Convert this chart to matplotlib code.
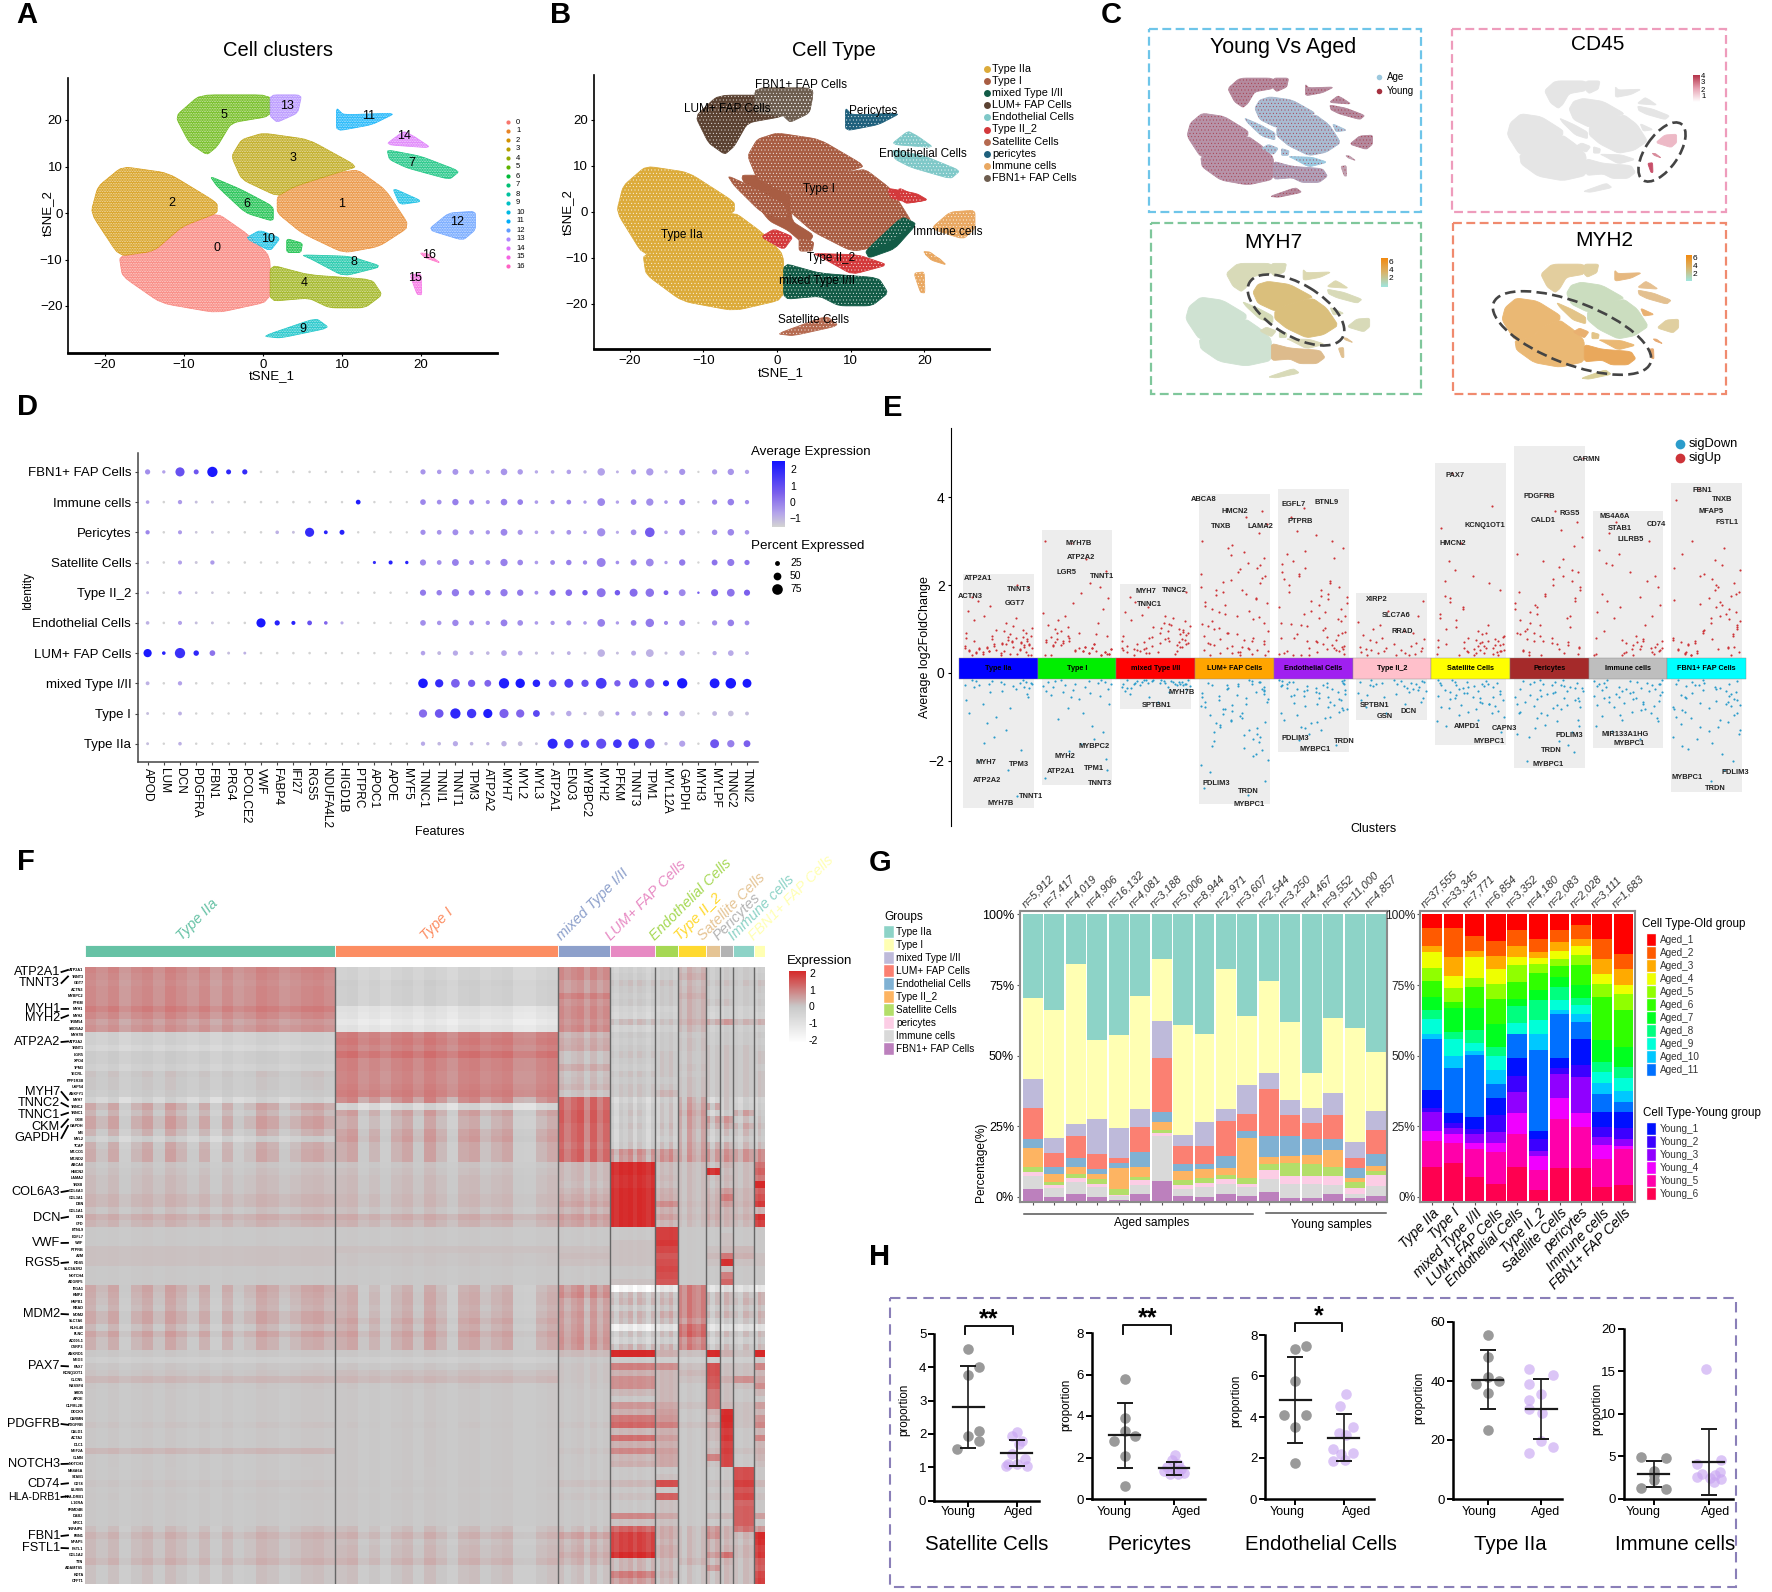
import numpy as np
import matplotlib
matplotlib.use("Agg")
import matplotlib.pyplot as plt
from matplotlib.colors import LinearSegmentedColormap as LSC
from matplotlib.patches import Polygon, Rectangle, Ellipse

plt.rcParams['font.family'] = ['Liberation Sans', 'DejaVu Sans']
plt.rcParams['hatch.linewidth'] = 0.25
W, H = 1772, 1592
fig = plt.figure(figsize=(W/100, H/100), dpi=100, facecolor='white')

def axpx(l, t, r, b, **k):
    return fig.add_axes([l/W, 1-b/H, (r-l)/W, (b-t)/H], **k)

ov = fig.add_axes([0, 0, 1, 1], zorder=50)
ov.set_xlim(0, W); ov.set_ylim(H, 0); ov.axis('off'); ov.patch.set_alpha(0)
def T(x, y, s, size=9, ha='center', va='center', **k):
    return ov.text(x, y, s, fontsize=size, ha=ha, va=va, **k)

for lab, x, y in [('A',27,15),('B',561,15),('C',1111,15),('D',28,407),('E',893,408),('F',26,862),('G',880,863),('H',880,1257)]:
    T(x, y, lab, 21, fontweight='bold')

# ---------------- tSNE cluster outlines (tSNE_1, tSNE_2)
outline_0 = [(-5.8,0),(-2,-4.5),(0.9,-9.3),(0.9,-19),(-5.8,-21.5),(-12.9,-19.4),(-17.8,-13.6),(-18.2,-9.3),(-13.8,-8.2),(-10.2,-2.9)]
outline_1 = [(9.3,8.6),(12,9.3),(15.5,5),(18.6,-2.9),(14.7,-7.2),(10.2,-8.6),(4.9,-4.3),(1.8,0),(1.8,3.6),(4,5.7)]
outline_2 = [(-17.8,10),(-12,8.6),(-5.8,2.2),(-5.8,0),(-10.2,-2.9),(-13.8,-8.2),(-18.2,-9.3),(-21.8,0),(-20.9,5.7)]
outline_3 = [(0,17.2),(5.8,15.8),(12,10),(9.3,8.6),(4,5.7),(1.8,3.6),(-2.7,7.2),(-4,12.2),(-2.7,15.8)]
outline_4 = [(0.9,-11.1),(5.8,-13.3),(13.8,-14.3),(15.1,-17.6),(12.9,-20.4),(8.4,-20.4),(5.8,-18.3),(0.9,-19)]
outline_5 = [(-8,25.4),(0.9,25.4),(0.9,20.8),(-4,19.4),(-5.8,14.3),(-7.1,12.5),(-9.3,15),(-11.1,20.8)]
outline_6 = [(-2.7,5),(1.3,1.4),(1.3,-1.8),(-2.2,0),(-5.8,5.7),(-6.7,7.9)]
outline_7 = [(15.7,13.6),(20,12.2),(24.9,9),(23.6,7.2),(18.2,9.7),(16,11.5)]
outline_8 = [(4.9,-9),(11,-9.3),(15.1,-11.5),(10.2,-13.6),(6.2,-10)]
outline_9 = [(0,-26.5),(6.7,-22.6),(8.4,-24.7),(2.2,-26.9)]
outline_10 = [(-0.4,-3.7),(2.2,-5.4),(0.9,-8.2),(-2.2,-5.4)]
outline_11 = [(9.3,22.6),(10.2,21.1),(16.8,21.5),(13.8,19),(9.3,17.6)]
outline_12 = [(23.5,0),(26.9,0.4),(26.9,-3.6),(25.3,-5.9),(20.9,-3.6)]
outline_13 = [(0.9,25.4),(4.9,25.4),(4.4,21.5),(1.8,19.5),(0.9,20.8)]
outline_14 = [(17.8,17.6),(19.1,16.5),(21.3,14),(15.5,14.7)]
outline_15 = [(18.6,-13.3),(20,-13),(20.1,-17.6),(19.5,-17.5)]
outline_16 = [(19.9,-8.6),(20.8,-8.7),(22.5,-10.8),(20.5,-9.6)]
outline_6b = [(3,-5.5),(5,-6.5),(4.8,-8.5),(3,-8.5)]
outline_10b = [(16.4,5.4),(20.2,2.5),(17.3,1.8)]
outlines = [outline_0,outline_1,outline_2,outline_3,outline_4,outline_5,outline_6,outline_7,outline_8,outline_9,
            outline_10,outline_11,outline_12,outline_13,outline_14,outline_15,outline_16,outline_6b,outline_10b]
cluster_id = list(range(17)) + [6, 10]

def smooth(p, n=2):
    p = np.array(p, float)
    for _ in range(n):
        q = np.roll(p, -1, axis=0)
        p = np.column_stack([0.88*p+0.12*q, 0.12*p+0.88*q]).reshape(-1, 2)
    return p

def blob(ax, poly, color, hatch_color='white', hatch='..........', alpha=1.0, z=2):
    xy = smooth(poly)
    ax.add_patch(Polygon(xy, closed=True, facecolor=color, edgecolor=color, lw=0.6, alpha=alpha, zorder=z))
    if hatch:
        ax.add_patch(Polygon(xy, closed=True, facecolor='none', edgecolor=hatch_color, lw=0, hatch=hatch, zorder=z+.1))

def tsne_axes(l, t, r, b):
    ax = axpx(l, t, r, b)
    for s in ('top', 'right'):
        ax.spines[s].set_visible(False)
    ax.spines['bottom'].set_linewidth(2)
    ax.spines['left'].set_linewidth(1.2)
    ax.set_xticks([-20,-10,0,10,20]); ax.set_yticks([-20,-10,0,10,20])
    ax.tick_params(labelsize=9.5, length=2.5, pad=1.5)
    return ax

# Panel A
hue17 = ["#F8766D","#E88526","#D39200","#B79F00","#93AA00","#5EB300","#00BA38","#00BF74","#00C19F","#00BFC4",
         "#00B9E3","#00ADFA","#619CFF","#AE87FF","#DB72FB","#F564E3","#FF61C3"]
axA = tsne_axes(68, 78, 497, 353)
axA.set_xlim((68-263)/7.9, (497-263)/7.9); axA.set_ylim((213-353)/4.65, (213-78)/4.65)
for poly, cid in zip(outlines, cluster_id):
    blob(axA, poly, hue17[cid], alpha=0.8)
cluster_names = [str(i) for i in range(17)]
cluster_lab_x = [-5.8,10,-11.5,3.8,5.2,-5,-2,18.9,11.5,5,0.6,13.4,24.6,3,17.9,19.3,21]
cluster_lab_y = [-7.5,1.9,2.1,11.8,-15,21,2,10.8,-10.5,-25,-5.6,20.8,-1.9,23,16.6,-13.9,-9]
for n, x, y in zip(cluster_names, cluster_lab_x, cluster_lab_y):
    axA.text(x, y, n, fontsize=9, ha='center', va='center', zorder=5)
T(278, 50, 'Cell clusters', 14.5)
T(48, 213, 'tSNE_2', 9.5, rotation=90); T(272, 376, 'tSNE_1', 9.5)
for i, (n, c) in enumerate(zip(cluster_names, hue17)):
    y = 122 + 9*i
    ov.plot([508], [y], 'o', ms=3, color=c, mew=0)
    T(516, y, n, 5.5, ha='left')

# Panel B
type_names = ['Type IIa','Type I','mixed Type I/II','LUM+ FAP Cells','Endothelial Cells','Type II_2','Satellite Cells','pericytes','Immune cells','FBN1+ FAP Cells']
type_colors = ['#DCAB3A','#A85D43','#125B46','#5B4232','#7FC8C8','#D3393B','#B56A50','#1F607C','#E9A862','#6D5D4F']
cluster_type = [0,1,0,1,2,3,1,4,5,6,5,7,8,9,4,8,8,1,5]
extra_I = [(-5,8),(-2,8),(2,4),(2,-2),(5,-5),(4,-7.5),(1.5,-4),(-1,-2),(-3,2)]
extra_FBN = [(-3,27),(5,27),(4.4,21.5),(1,20.8),(-3,21.5)]
extra_mixed = [(12,-8.5),(17,-1),(19,-2.6),(16,-8),(12.5,-10)]
extra_red = [(15,5.2),(19,4),(20.5,2.6),(18,2),(15.5,3)]
extra_immune = [(20,-9),(22,-10),(23,-11.5),(21,-10.5)]
axB = tsne_axes(593.5, 75, 989, 349)
axB.set_xlim((593.5-777)/7.36, (989-777)/7.36); axB.set_ylim((212-349)/4.6, (212-75)/4.6)
blob(axB, extra_I, type_colors[1], hatch=None)
for poly, t in zip(outlines, cluster_type):
    blob(axB, poly, type_colors[t], hatch='.....')
blob(axB, extra_FBN, type_colors[9], hatch='.....')
blob(axB, extra_mixed, type_colors[2], hatch=None)
blob(axB, extra_red, type_colors[5], hatch=None)
blob(axB, extra_immune, type_colors[8], hatch=None)
b_lab = ['FBN1+ FAP Cells','LUM+ FAP Cells','Pericytes','Endothelial Cells','Type I','Immune cells','Type IIa','Type II_2','mixed Type I/II','Satellite Cells']
b_x = [3.2,-6.8,13,19.8,5.7,23.2,-12.9,7.4,5.4,5.0]
b_y = [27.7,22.5,21.9,12.6,4.9,-4.4,-4.9,-10,-14.9,-23.4]
for n, x, y in zip(b_lab, b_x, b_y):
    axB.text(x, y, n, fontsize=8.5, ha='center', va='center', zorder=6)
T(834, 50, 'Cell Type', 14.5)
T(568, 212, 'tSNE_2', 9.5, rotation=90); T(781, 373, 'tSNE_1', 9.5)
for i, (n, c) in enumerate(zip(type_names, type_colors)):
    y = 69 + 12.1*i
    ov.plot([987], [y], 'o', ms=5, color=c, mew=0)
    T(992, y, n, 7.8, ha='left')

# Panel C
def mini(x0, sx, y0, sy):
    l, r = x0-27*sx, x0+30*sx
    t, b = y0-28*sy, y0+29*sy
    ax = axpx(l, t, r, b)
    ax.set_xlim(-27, 30); ax.set_ylim(-29, 28); ax.axis('off')
    return ax
for (l, t, r, b), c in zip([(1149,29,1421,212),(1452,29,1726,212),(1151,223,1421,394),(1453,223,1726,394)],
                           ['#6EC5E9','#EE9CBC','#7FC79B','#F08A6E']):
    ov.add_patch(Rectangle((l, t), r-l, b-t, fill=False, ec=c, lw=1.6, ls=(0,(4,2))))
T(1283, 47, 'Young Vs Aged', 15.5); T(1598, 44, 'CD45', 15); T(1273, 242, 'MYH7', 15); T(1604, 241, 'MYH2', 15)
ax1 = mini(1270, 3.81, 136, 2.28)
young_face = ['#B793A8','#A9BCD2','#B793A8','#A9BCD2','#B0A0B8','#B58A9E','#A9C4DA','#B58A9E','#9CCBE2','#B58A9E','#A9C4DA','#B58A9E','#B58A9E','#B58A9E','#B58A9E','#C0A0B0','#C0A0B0']
for poly, cid in zip(outlines, cluster_id):
    blob(ax1, poly, young_face[cid], hatch_color='#A5303F', hatch='.....')
ov.plot([1379], [77], 'o', ms=4, color='#9CC8DE', mew=0); ov.plot([1379], [90.7], 'o', ms=4, color='#A5303F', mew=0)
T(1386.5, 77, 'Age', 7, ha='left'); T(1386.5, 90.7, 'Young', 7, ha='left')
ax2 = mini(1583, 3.48, 135, 2.13)
cd45 = ['#E5E5E5']*17; cd45[12] = '#EDB9C6'; cd45[15] = '#C8506A'; cd45[16] = '#D88A9A'
for poly, cid in zip(outlines, cluster_id):
    blob(ax2, poly, cd45[cid], hatch=None)
ax3 = mini(1268, 3.78, 319, 2.19)
myh7 = ['#CFE2D2','#DABF7C','#CFE2D2','#DABF7C','#DDBB8C','#D8DAB8','#D4DAB6','#D8DAB8','#DCDAB8','#D8DAB8','#D8DAB8','#DCD8B0','#D8DAB8','#D8DAB8','#DCD8B0','#E0C090','#E0C090']
for poly, cid in zip(outlines, cluster_id):
    blob(ax3, poly, myh7[cid], hatch=None)
ax4 = mini(1581, 3.63, 320, 2.2)
myh2 = ['#EAB874','#CBDDBF','#EAB874','#CBDDBF','#E9A85C','#E3CE9E','#E3C488','#E3C090','#EAB874','#D9CF98','#E9B070','#E6B880','#E0CFA0','#E0CFA0','#E6C090','#E6A870','#E6A870']
for poly, cid in zip(outlines, cluster_id):
    blob(ax4, poly, myh2[cid], hatch=None)
for cx, cy, w, h, ang in [(1662,152,68,33,-55.6),(1296,310,108,52,30.7),(1572,333,168,62,21)]:
    ov.add_patch(Ellipse((cx, cy), w, h, angle=ang, fill=False, ec='#444444', lw=1.9, ls=(0,(4,2))))
grad = np.linspace(1, 0, 64).reshape(-1, 1)
def cbar(l, t, r, b, cmap):
    a = axpx(l, t, r, b); a.imshow(grad, aspect='auto', cmap=cmap); a.axis('off')
cm_cd = LSC.from_list('c', ['#FFFFFF', '#E8A5B5', '#B5344A'])
cm_my = LSC.from_list('m', ['#9FE5DD', '#D9B56B', '#F28A10'])
cbar(1693, 75, 1700, 102, cm_cd); cbar(1381, 258, 1388, 287, cm_my); cbar(1686, 255, 1692, 281, cm_my)
for y, s in zip([77,83,90,97], '4321'):
    T(1701, y, s, 5.5, ha='left')
for y, s in zip([263,271,279], '642'):
    T(1389, y, s, 6, ha='left')
for y, s in zip([259,267,275], '642'):
    T(1693, y, s, 6, ha='left')

# Panel D
features = ['APOD','LUM','DCN','PDGFRA','FBN1','PRG4','PCOLCE2','VWF','FABP4','IFI27','RGS5','NDUFA4L2','HIGD1B','PTPRC','APOC1','APOE','MYF5',
            'TNNC1','TNNI1','TNNT1','TPM3','ATP2A2','MYH7','MYL2','MYL3','ATP2A1','ENO3','MYBPC2','MYH2','PFKM','TNNT3','TPM1','MYL12A','GAPDH','MYH3','MYLPF','TNNC2','TNNI2']
identities = ['Type IIa','Type I','mixed Type I/II','LUM+ FAP Cells','Endothelial Cells','Type II_2','Satellite Cells','Pericytes','Immune cells','FBN1+ FAP Cells']
pct_IIa = [8,4,14,4,4,4,3,4,3,3,3,3,3,3,3,3,3,20,14,28,14,12,30,24,8,70,64,56,70,58,74,68,12,36,4,60,46,42]
pct_I = [8,4,16,4,4,4,3,4,3,3,4,3,3,3,3,3,3,54,58,72,64,62,62,54,42,20,30,12,36,18,24,24,24,32,3,24,32,16]
pct_mix = [16,5,20,5,5,4,4,4,4,4,4,4,4,4,3,3,3,66,54,58,46,42,72,64,48,50,60,46,76,38,62,62,36,72,4,68,74,60]
pct_LUM = [54,14,72,30,32,8,8,5,5,5,5,4,4,4,4,4,3,22,16,28,18,14,32,24,10,12,16,8,48,8,26,50,10,30,3,20,32,16]
pct_End = [14,5,18,8,8,5,5,62,28,18,24,14,10,4,4,4,3,32,22,38,26,20,42,32,14,20,26,14,50,12,32,56,18,36,3,28,40,24]
pct_II2 = [8,5,14,6,6,5,4,5,5,5,5,4,4,4,4,4,3,36,30,46,34,30,46,38,16,36,40,30,60,30,52,56,24,42,4,44,50,36]
pct_Sat = [8,5,18,8,20,5,5,4,5,5,5,4,4,4,10,18,12,36,24,42,26,24,46,32,14,24,30,20,60,14,36,50,12,38,3,34,44,28]
pct_Per = [20,5,18,6,8,5,5,5,14,8,62,16,26,4,4,4,3,28,24,34,24,20,42,28,14,18,24,14,54,10,32,66,14,36,3,30,40,22]
pct_Imm = [14,5,20,8,8,5,5,5,5,5,5,4,4,24,4,4,3,32,24,38,28,18,40,32,14,20,24,12,50,12,32,46,14,36,3,28,40,20]
pct_FBN = [28,12,62,26,72,26,28,5,6,6,5,4,4,4,4,4,3,28,22,34,25,18,40,30,12,14,22,12,48,8,28,46,12,36,3,28,38,20]
avg_IIa = [-.7,-1,-.5,-1,-1,-1,-1,-1,-1,-1,-1,-1,-1,-1,-1,-1,-1,-.4,-.6,-.4,-.6,-.6,-.5,-.7,-.8,1.9,1.5,1.4,1.1,1.6,1.6,1.1,-.7,-.3,-1,.9,.2,.7]
avg_I = [-.7,-1,-.5,-1,-1,-1,-1,-1,-1,-1,-1,-1,-1,-1,-1,-1,-1,.5,.9,1.9,1.6,2.1,.7,.6,1.2,-.5,-.4,-.7,-.8,-.2,-.4,-.8,.3,-.6,-1,-.6,-.7,-.7]
avg_mix = [-.5,-1,-.3,-1,-1,-1,-1,-1,-1,-1,-1,-1,-1,-1,-1,-1,-1,2.2,1.8,.7,.8,.6,2.1,2.2,2,1.1,1.4,1,1.5,.7,1.2,1,2,2.2,-1,2.1,2.2,2.2]
avg_LUM = [2.2,2,1.7,1.9,.4,-.7,-.5,-1,-1,-1,-1,-1,-1,-1,-1,-1,-1,-.3,-.6,-.4,-.5,-.6,-.3,-.4,-.7,-.6,-.5,-.8,-.5,-.7,-.4,-.5,-.7,-.4,-1,-.4,-.4,-.5]
avg_End = [-.5,-1,-.3,-.7,-.7,-1,-1,2.2,2,2,1,.6,-.4,-1,-1,-1,-1,0,-.1,.1,0,-.1,.2,0,-.2,-.1,0,-.2,.2,-.2,.2,.3,.1,.1,-1,0,.2,0]
avg_II2 = [-.6,-1,-.3,-.8,-.8,-1,-1,-1,-1,-1,-1,-1,-1,-1,-1,-1,-1,.3,.2,.3,.3,.3,.3,.3,0,.5,.5,.8,.4,.8,.5,.4,.7,.1,.8,.6,.4,.7]
avg_Sat = [-.7,-1,-.3,-.8,-.2,-1,-1,-1,-1,-1,-1,-1,-1,-1,1.8,2,2,.1,0,.2,.1,0,.2,.1,-.2,.1,.2,.1,.2,0,.2,.1,-.2,.3,-1,.4,.3,.4]
avg_Per = [.1,-1,-.2,-.8,-.7,-1,-1,-1,-.5,-.7,1.8,2,2,-1,-1,-1,-1,0,-.1,0,-.1,-.1,.1,-.1,-.3,-.2,-.1,-.2,0,-.4,0,.8,-.3,.1,-1,0,.1,-.1]
avg_Imm = [-.3,-1,-.2,-.7,-.7,-1,-1,-1,-1,-1,-1,-1,-1,2.1,-1,-1,-1,.1,0,.2,.1,-.1,.2,.2,-.2,0,.1,-.2,.1,-.3,.1,0,-.1,.2,-1,.1,.2,0]
avg_FBN = [0,-.3,1,.9,2.2,1.9,1.8,-1,-1,-1,-1,-1,-1,-1,-1,-1,-1,-.1,-.2,-.1,-.2,-.3,-.1,-.2,-.4,-.4,-.3,-.5,-.3,-.5,-.2,-.2,-.5,-.1,-1,-.2,-.1,-.3]
dot_pct = np.array([pct_IIa,pct_I,pct_mix,pct_LUM,pct_End,pct_II2,pct_Sat,pct_Per,pct_Imm,pct_FBN], float)
dot_avg = np.array([avg_IIa,avg_I,avg_mix,avg_LUM,avg_End,avg_II2,avg_Sat,avg_Per,avg_Imm,avg_FBN], float)
cm_dot = LSC.from_list('d', [(0,'#D3D3D3'),(.2,'#B5A5EA'),(.5,'#7E62EC'),(1,'#1414FF')])
axD = axpx(137.5, 453, 757.6, 761.7)
axD.set_xlim((137.5-147.6)/16.2, (757.6-147.6)/16.2)
axD.set_ylim(-(761.7-743.7)/30.2, (743.7-453)/30.2)
xx, yy = np.meshgrid(np.arange(len(features)), np.arange(len(identities)))
def dot_s(p):
    return (0.72*(2+np.asarray(p)*0.115))**2
axD.scatter(xx.ravel(), yy.ravel(), s=dot_s(dot_pct.ravel()), c=dot_avg.ravel(), cmap=cm_dot, vmin=-1, vmax=2.3, lw=0)
axD.set_xticks(range(len(features))); axD.set_xticklabels(features, rotation=270, fontsize=8.6, ha='center', va='top')
axD.set_yticks(range(len(identities))); axD.set_yticklabels(identities, fontsize=9.5)
axD.tick_params(length=2.5, pad=2, color='#444444')
for s in ('top','right'):
    axD.spines[s].set_visible(False)
for s in ('left','bottom'):
    axD.spines[s].set_color('#444444'); axD.spines[s].set_linewidth(1.1)
T(28, 590, 'Identity', 8.5, rotation=90); T(440, 832, 'Features', 9)
T(751, 452, 'Average Expression', 9.6, ha='left'); T(751, 545.7, 'Percent Expressed', 9.6, ha='left')
cbar(771.6, 461, 784, 527, cm_dot)
for y, s in zip([470,486.5,502.5,519], ['2','1','0','−1']):
    T(790, y, s, 7.5, ha='left')
for y, p in zip([562.7,576,589], [25,50,75]):
    ov.scatter([777], [y], s=dot_s(p), color='k', lw=0)
    T(790, y, str(p), 7.5, ha='left')

# Panel E
clusters_E = ['Type IIa','Type I','mixed Type I/II','LUM+ FAP Cells','Endothelial Cells','Type II_2','Satellite Cells','Pericytes','Immune cells','FBN1+ FAP Cells']
strip_colors = ['#0000FF','#00EE00','#FF0000','#FFA500','#A020F0','#FFC0CB','#FFFF00','#A52A2A','#BEBEBE','#00FFFF']
bg_top = [2.26,3.25,2.02,4.08,4.2,1.83,4.79,5.17,3.7,4.33]
bg_bottom = [-3.07,-2.55,-.81,-2.98,-1.81,-1.06,-1.63,-2.17,-1.7,-2.71]
jitter = [-.33,.12,.38,-.08,.24,-.41,.03,.31,-.2,.41,-.28,.15,-.12,.35,-.37,.07,.27,-.03,-.24,.43,-.15,.19,-.43,.1,.33,-.31,-.05,.22,.39,-.18,.05,-.39,.29,-.1,.17,-.26,.37]
up_IIa = [.4,.42,.44,.45,.47,.48,.5,.52,.53,.55,.56,.58,.6,.62,.64,.66,.68,.7,.72,.75,.78,.8,.83,.85,.88,.92,.95,.98,1.02,1.08,1.13,1.2,1.25,1.3,1.42,1.53,1.63,1.72,1.96,2.0,.41,.43,.46,.49,.51,.54,.57,.59,.61,.63,.65,.67,.69,.71,.74,.77,.81,.84,.9,.97,.4,.44,.47,.5,.53,.56,.6,.66,.73,.79]
up_I = [.4,.42,.44,.46,.48,.5,.52,.55,.57,.6,.62,.65,.68,.7,.74,.78,.82,.85,.88,.92,.96,1.0,1.05,1.1,1.15,1.2,1.3,1.36,1.45,1.6,1.7,1.82,1.95,2.05,2.33,2.6,2.96,3.0,.41,.43,.45,.47,.49,.51,.54,.56,.59,.63,.67,.72,.76,.8,.9,.41,.44,.5,.58,.64,.7,.84]
up_mix = [.42,.45,.48,.5,.53,.55,.58,.6,.62,.65,.68,.7,.72,.75,.78,.8,.84,.88,.9,.95,.98,1.02,1.05,1.08,1.1,1.15,1.2,1.26,1.32,1.4,1.5,1.62,1.72,1.85,.44,.47,.51,.54,.57,.61,.64,.67,.71,.74,.77,.82,.86,.92,1.0,1.12,1.18,1.3,.46,.52,.6,.69,.79,.94]
up_LUM = [.4,.45,.5,.55,.6,.65,.72,.78,.85,.92,1,1.08,1.15,1.22,1.3,1.38,1.46,1.55,1.62,1.7,1.78,1.85,1.95,2.05,2.12,2.2,2.3,2.4,2.5,2.62,2.75,2.85,3,3.2,3.4,3.55,3.7,.48,.62,.95,1.42,1.9,.41,.43,.46,.52,.57,.63,.68,.74,.8,.88,1.03,1.18,1.35,1.52,1.68,1.88,2.08,2.25,2.45,2.68,.42,.47,.53,.58,.66,.76,.9,1.12,1.28,1.6,1.8,2.16,2.36,2.92]
up_End = [.4,.44,.5,.56,.62,.7,.76,.83,.9,.98,1.06,1.14,1.22,1.3,1.38,1.46,1.55,1.64,1.72,1.8,1.9,2,2.1,2.2,2.3,2.4,2.55,2.7,2.85,3,3.15,3.24,3.55,3.75,.46,.58,.8,1.1,1.5,1.95,.41,.43,.47,.52,.54,.6,.66,.73,.79,.86,.94,1.02,1.18,1.26,1.42,1.6,1.68,1.76,1.85,2.05,2.25,2.48,2.78,.42,.49,.55,.64,.72,.88,1.12,1.34,2.15,2.62]
up_II2 = [.4,.42,.45,.48,.5,.52,.55,.58,.62,.65,.7,.75,.8,.86,.92,1,1.1,1.17,1.3,1.42,1.65,.41,.43,.46,.49,.53,.57,.6,.68,.78,.96]
up_Sat = [.4,.43,.46,.5,.53,.56,.6,.63,.66,.7,.73,.76,.8,.85,.9,.95,1,1.1,1.2,1.35,1.5,1.62,1.75,1.9,2.05,2.2,2.35,2.55,2.95,3.3,3.8,4.55,.41,.44,.47,.49,.51,.54,.58,.61,.64,.68,.71,.75,.78,.83,.88,.41,.45,.48,.52,.57,.62,.67,.72,1.05,1.25,1.45,1.7,2.1]
up_Per = [.4,.5,.6,.7,.8,.9,1,1.1,1.2,1.3,1.4,1.5,1.6,1.7,1.8,1.9,2,2.1,2.2,2.3,2.42,2.55,2.7,2.9,3.1,3.25,3.45,3.7,4.05,4.9,.45,.65,.95,1.25,1.55,1.85,.42,.47,.53,.57,.63,.68,.74,.78,.84,.88,1.05,1.15,1.35,1.45,1.65,1.75,1.95,2.15,2.35,2.6,.44,.55,.72,.92]
up_Imm = [.4,.44,.48,.52,.55,.6,.64,.68,.72,.78,.85,.95,1.1,1.25,1.4,1.5,1.65,1.8,1.95,2.1,2.3,2.45,2.5,2.7,2.8,3,3.2,3.45,.41,.43,.46,.5,.54,.57,.62,.66,.7,.75,.8,1.3,1.55,1.72,2.2,.42,.47,.58,.74]
up_FBN = [.4,.45,.5,.55,.6,.66,.72,.8,.88,.96,1.05,1.14,1.22,1.3,1.4,1.5,1.58,1.66,1.75,1.85,1.95,2.05,2.15,2.25,2.35,2.45,2.58,2.7,2.85,3,3.95,4.2,.48,.7,1,1.35,1.7,.41,.43,.46,.52,.57,.63,.68,.75,.84,.92,1.1,1.26,1.45,1.62,1.8,2,2.2,2.4,.42,.47,.54,.6,.78,.98,1.18,1.54,1.9]
dn_IIa = [-.16,-.18,-.2,-.22,-.24,-.26,-.28,-.3,-.33,-.36,-.4,-.44,-.48,-.55,-.62,-.7,-.8,-.9,-1,-1.15,-1.3,-1.45,-1.6,-1.75,-2,-2.2,-2.8,-.17,-.19,-.21,-.23,-.25,-.27,-.31,-.35]
dn_I = [-.16,-.18,-.2,-.23,-.26,-.3,-.33,-.36,-.4,-.45,-.5,-.55,-.6,-.7,-.8,-.9,-1.05,-1.2,-1.35,-1.5,-1.62,-1.78,-1.95,-2.2,-2.4,-.17,-.19,-.21,-.24,-.28,-.32,-.38,-.43,-.52]
dn_mix = [-.15,-.16,-.17,-.18,-.19,-.2,-.21,-.22,-.23,-.24,-.25,-.26,-.27,-.28,-.3,-.32,-.34,-.36,-.4,-.44,-.48,-.55,-.65,-.15,-.16,-.17,-.18,-.19,-.2,-.21,-.22,-.23,-.24,-.25,-.26,-.28,-.31,-.35]
dn_LUM = [-.16,-.2,-.25,-.3,-.36,-.42,-.48,-.55,-.62,-.7,-.78,-.86,-.94,-1.02,-1.1,-1.18,-1.26,-1.34,-1.42,-1.5,-1.58,-1.66,-1.75,-1.85,-1.98,-2.1,-2.25,-2.45,-2.62,-2.78,-.22,-.34,-.5,-.66,-.82,-.98,-1.14,-1.3,-1.46,-.18,-.24,-.28,-.33,-.39,-.45,-.52,-.58,-.65,-.74,-.82,-.9,-1.06,-1.22,-1.38,-1.54,-1.7,-1.9,-.2,-.27,-.36,-.44,-.6,-.76,-.96,-1.12]
dn_End = [-.16,-.19,-.22,-.26,-.3,-.34,-.38,-.42,-.46,-.5,-.55,-.6,-.65,-.7,-.75,-.8,-.85,-.9,-.96,-1.02,-1.08,-1.15,-1.22,-1.3,-1.4,-1.52,-1.65,-.2,-.28,-.36,-.44,-.52,-.62,-.72,-.82,-.17,-.21,-.24,-.27,-.31,-.35,-.39,-.43,-.47,-.53,-.58,-.68,-.78,-.88,-1,-1.12,-1.25,-.18,-.23,-.29,-.37]
dn_II2 = [-.16,-.19,-.22,-.25,-.28,-.32,-.36,-.4,-.45,-.5,-.56,-.62,-.7,-.78,-.9,-.17,-.2,-.23,-.26,-.3,-.34,-.38,-.43,-.48,-.54,-.66,-.18,-.21,-.24,-.29]
dn_Sat = [-.16,-.2,-.24,-.28,-.32,-.36,-.4,-.45,-.5,-.55,-.6,-.65,-.7,-.75,-.8,-.86,-.92,-1,-1.1,-1.2,-1.35,-.22,-.3,-.38,-.46,-.54,-.62,-.72,-.82,-.17,-.19,-.23,-.26,-.3,-.34,-.42,-.48,-.52,-.58,-.68,-.78,-.88,-.96,-1.06,-.21,-.27,-.33,-.44,-.57,-.7]
dn_Per = [-.16,-.2,-.25,-.3,-.35,-.4,-.46,-.52,-.58,-.64,-.7,-.76,-.82,-.88,-.95,-1.02,-1.1,-1.18,-1.26,-1.35,-1.45,-1.55,-1.65,-1.8,-2,-.22,-.32,-.42,-.54,-.66,-.78,-.9,-.17,-.19,-.24,-.28,-.34,-.38,-.44,-.5,-.56,-.62,-.72,-.8,-.92,-1.06,-1.2,-1.4,-.21,-.27,-.36,-.48,-.6,-.74]
dn_Imm = [-.16,-.19,-.22,-.26,-.3,-.34,-.38,-.42,-.46,-.5,-.55,-.6,-.65,-.7,-.76,-.82,-.88,-.95,-1.02,-1.1,-1.2,-1.32,-1.5,-.24,-.36,-.48,-.58,-.68,-.78,-.92,-.17,-.2,-.23,-.28,-.32,-.37,-.4,-.44,-.52,-.57,-.63,-.73,-.85,-.98,-1.06,-.18,-.25,-.31,-.43,-.54,-.66]
dn_FBN = [-.16,-.2,-.25,-.3,-.36,-.42,-.48,-.54,-.6,-.66,-.72,-.78,-.85,-.92,-1,-1.08,-1.16,-1.24,-1.32,-1.4,-1.5,-1.6,-1.72,-1.85,-2,-2.2,-2.45,-.28,-.44,-.62,-.82,-1.02,-1.22,-.17,-.22,-.27,-.33,-.38,-.46,-.52,-.58,-.64,-.7,-.76,-.88,-.96,-1.12,-1.3,-1.45,-1.66,-.19,-.24,-.35,-.5,-.68,-.8]
ups = [up_IIa,up_I,up_mix,up_LUM,up_End,up_II2,up_Sat,up_Per,up_Imm,up_FBN]
dns = [dn_IIa,dn_I,dn_mix,dn_LUM,dn_End,dn_II2,dn_Sat,dn_Per,dn_Imm,dn_FBN]
axE = axpx(951, 428, 1750, 826)
axE.set_xlim((951-959)/78.7, (1750-959)/78.7)
axE.set_ylim((673-826)/43.9, (673-428)/43.9)
for i in range(10):
    axE.add_patch(Rectangle((i+.05, bg_bottom[i]), .9, bg_top[i]-bg_bottom[i], fc='#EDEDED', ec='none', zorder=1))
    xu = [i+.5+jitter[(k*2+i*5) % len(jitter)] for k in range(len(ups[i]))]
    xd = [i+.5+jitter[(k*3+i*7) % len(jitter)] for k in range(len(dns[i]))]
    axE.scatter(xu, ups[i], s=2.4, color='#CD3338', lw=0, zorder=2)
    axE.scatter(xd, dns[i], s=2.4, color='#2B9CCB', lw=0, zorder=2)
    axE.add_patch(Rectangle((i, -.14), 1, .49, fc=strip_colors[i], ec='#888888', lw=.3, zorder=3))
    axE.text(i+.5, .105, clusters_E[i], fontsize=5.2, ha='center', va='center', zorder=4, fontweight='bold')
gene_labels = ['ATP2A1','ACTN3','TNNT3','GGT7','MYH7','TPM3','ATP2A2','TNNT1','MYH7B','MYH7B','ATP2A2','LGR5','TNNT1','MYBPC2','MYH2','TPM1','ATP2A1','TNNT3',
 'MYH7','TNNC2','TNNC1','MYH7B','SPTBN1','ABCA8','HMCN2','TNXB','LAMA2','PDLIM3','TRDN','MYBPC1','EGFL7','BTNL9','PTPRB','PDLIM3','TRDN','MYBPC1',
 'XIRP2','SLC7A6','RRAD','SPTBN1','GSN','DCN','PAX7','KCNQ1OT1','HMCN2','AMPD1','CAPN3','MYBPC1','CARMN','PDGFRB','RGS5','CALD1','PDLIM3','TRDN','MYBPC1',
 'MS4A6A','STAB1','CD74','LILRB5','MIR133A1HG','MYBPC1','FBN1','TNXB','MFAP5','FSTL1','MYBPC1','PDLIM3','TRDN']
gene_x = [.24,.14,.76,.71,.34,.76,.35,.91,.53,1.52,1.55,1.36,1.82,1.72,1.35,1.71,1.29,1.79,2.37,2.74,2.42,2.83,2.51,3.11,3.5,3.33,3.83,3.27,3.68,3.69,4.25,4.67,4.34,4.27,4.9,4.52,
 5.31,5.55,5.63,5.28,5.41,5.71,6.3,6.68,6.28,6.45,6.93,6.73,7.98,7.37,7.76,7.42,7.75,7.53,7.48,8.33,8.4,8.86,8.53,8.46,8.51,9.44,9.7,9.56,9.76,9.25,9.86,9.61]
gene_y = [2.15,1.75,1.9,1.58,-2.04,-2.09,-2.45,-2.81,-2.97,2.96,2.62,2.3,2.2,-1.68,-1.91,-2.18,-2.25,-2.52,1.85,1.88,1.55,-.45,-.75,3.96,3.67,3.34,3.34,-2.52,-2.71,-2.99,3.83,3.89,3.46,-1.5,-1.55,-1.75,
 1.67,1.31,.95,-.74,-.99,-.87,4.5,3.35,2.94,-1.22,-1.27,-1.56,4.87,4.03,3.63,3.48,-1.43,-1.77,-2.08,3.57,3.3,3.39,3.03,-1.41,-1.61,4.16,3.95,3.67,3.42,-2.38,-2.27,-2.64]
for g, x, y in zip(gene_labels, gene_x, gene_y):
    axE.text(x, y, g, fontsize=5.4, fontweight='bold', ha='center', va='center', zorder=5, color='#222222')
axE.set_xticks([]); axE.set_yticks([-2,0,2,4]); axE.tick_params(labelsize=10, length=2.5, pad=2)
for s in ('top','right','bottom'):
    axE.spines[s].set_visible(False)
T(925, 647, 'Average log2FoldChange', 9, rotation=90); T(1374, 829, 'Clusters', 9)
ov.plot([1680], [444], 'o', ms=7, color='#2B9CCB', mew=0); ov.plot([1680], [457.7], 'o', ms=7, color='#CD3338', mew=0)
T(1689, 444, 'sigDown', 9.3, ha='left'); T(1689, 457.7, 'sigUp', 9.3, ha='left')

# Panel F
group_sizes = [37555,33345,7771,6854,3352,4180,2083,2028,3111,1683]
group_names = ['Type IIa','Type I','mixed Type I/II','LUM+ FAP Cells','Endothelial Cells','Type II_2','Satellite Cells','Pericytes','Immune cells','FBN1+ FAP Cells']
group_colors = ['#66C2A5','#FC8D62','#8DA0CB','#E78AC3','#A6D854','#FFD92F','#E5C494','#B3B3B3','#8DD3C7','#FFFFB3']
genes_1 = ['ATP2A1','TNNT3','GGT7','ACTN3','MYBPC2','PFKM','MYH1','MYH2','TRIM54','SRD5A2']
genes_2 = ['MYH7B','ATP2A2','TNNT1','LGR5','XPO4','TPM3','TECRL','PPP1R3B','USP54','ANKFY1']
genes_3 = ['MYH7','TNNC2','TNNC1','CKM','GAPDH','MB','MYL2','TCAP','MT-CO1','MT-ND2']
genes_4 = ['ABCA8','HMCN2','LAMA2','TNXB','COL6A3','COL3A1','DBN','COL1A1','DCN','CFD']
genes_5 = ['BTNL9','EGFL7','VWF','PTPRB','A2M','RGS5','SLC9A3R2','NOTCH4','ADGRF5']
genes_6 = ['ITGA1','KMP2','HSPB1','RRAD','MDM2','SLC7A6','KLHL40','FLNC','AC005.1','CSRP3']
genes_7 = ['ANKRD1','MEG3','PAX7','KCNQ1OT1','CLCN5','RASSF4','SRD5','APOE','OLFML2B','DOCK9']
genes_8 = ['CARMN','PDGFRB','CALD1','ACTA2','DLC1','MEF2A','CLMN','NOTCH3']
genes_9 = ['MS4A6A','STAB1','CD74','LILRB5','HLA-DRB1','IL10RA','FRMD4B','DAB2','MRC1']
genes_10 = ['TNFAIP6','FBN1','MFAP5','FSTL1','COL1A2','TTN','ADAMTS5','KDTA','OFFT1']
rows_1 = [[.75,-.4,.7,-.3,-.2,.2,-.1,-.1,-.1,-.3],[.7,-.4,.7,-.2,-.2,.3,-.1,-.1,-.1,-.2],[.65,-.25,.5,0,0,.15,0,0,0,0],[.7,-.3,.5,-.1,-.1,.2,-.1,-.1,-.1,-.1],[.7,-.3,.8,-.2,-.1,.3,-.1,-.1,-.1,-.2],
 [.7,-.3,.6,-.1,-.1,.2,0,0,-.1,-.1],[.85,-.9,.7,-.4,-.4,.2,-.3,-.3,-.3,-.3],[.7,-1,.7,-.5,-.3,.2,-.4,-.3,-.3,-.4],[.5,-1.2,.6,.1,0,.3,.3,.5,.2,.2],[.6,-1,.7,-.4,-.3,.15,-.2,-.2,-.2,-.3]]
rows_2 = [[-.3,.85,.2,-.1,-.1,0,-.1,-.1,-.1,-.1],[-.3,.9,.3,-.2,-.1,.05,-.1,-.1,-.1,-.2],[-.5,.8,.35,-.1,-.1,.05,0,0,0,-.1],[-.15,1,.05,0,0,0,0,0,0,0],[-.15,.8,.05,-.1,0,0,0,0,0,0],
 [-.3,.8,.3,-.2,0,.05,0,0,0,-.1],[0,.75,.05,0,0,0,0,0,0,0],[-.05,.75,.1,-.1,-.1,.05,0,0,0,0],[-.05,.8,.2,0,0,.05,0,0,0,0],[-.1,.85,0,0,.2,.05,0,0,0,0]]
rows_3 = [[-.5,.55,1,-.5,-.3,.2,-.5,-.2,-.4,-.5],[.2,-.6,1,-.3,-.2,.3,.3,-.2,-.3,-.4],[.05,.25,1.1,-.2,-.2,.4,-.3,-.3,.3,-.3],[.25,.1,1.1,-.3,-.2,.3,.4,.4,-.1,-.2],[.25,.1,1,-.2,-.1,.3,.2,.2,.2,-.1],
 [.05,.25,1,-.3,-.2,.2,-.1,-.1,0,-.2],[-.3,.3,1,-.3,-.3,.2,-.2,-.3,-.2,-.3],[.1,.15,.9,-.2,-.1,.3,.2,.1,0,-.1],[.15,.15,1,.5,.45,.35,.5,.45,.45,.5],[.15,.15,1,.4,.5,.4,.5,.5,.45,.5]]
rows_4 = [[0,0,.15,1.9,.1,.1,.1,.2,.1,1],[.05,.05,.15,1.9,.1,.1,1.9,.1,.1,1.2],[.1,.1,.15,1.8,.15,.1,.15,.15,.1,.9],[.1,.1,.1,1.8,.1,.1,.1,.1,.1,2],[.1,.1,.2,1.9,.25,.1,.2,.5,.2,1.2],
 [.2,.15,.3,1.9,.3,.1,.25,.9,.2,1.4],[.2,.15,.4,1.9,.7,.15,.3,.5,.25,1.7],[.05,.05,.2,1.9,.25,.1,.25,.2,.15,.2],[.3,.3,.5,1.9,.45,.15,.35,.25,.25,1.8],[.2,.2,.4,1.9,.2,.1,.25,.2,.15,1.6]]
rows_5 = [[0,0,0,0,1.7,0,0,0,0,0],[0,0,0,0,1.7,0,0,.1,0,0],[0,0,0,.1,1.8,0,0,.1,0,0],[.1,.1,.1,.1,1.6,0,.1,.2,.2,0],[.1,.05,.15,.1,1.4,0,.2,1,.3,.1],
 [.1,.05,.1,.1,1.5,0,.1,1.9,.1,.1],[0,0,0,0,1.6,0,0,.1,0,0],[0,0,0,0,1.5,0,0,.9,0,0],[0,0,0,.1,1.4,0,0,1.2,0,0]]
rows_6 = [[.25,.1,.5,-1.8,-1.2,.8,-.9,-.9,-.9,-1.3],[.2,.15,.6,0,0,.8,.1,.1,0,.1],[.15,.15,.35,.1,.1,.8,.1,.1,.1,.1],[.1,.1,.3,-.2,-.1,.8,-.1,-.1,-.1,-.1],[.25,.15,.4,.1,.2,.8,.1,.1,.1,.1],
 [.25,.25,.35,0,0,.6,-.2,-.2,-.1,0],[.05,.15,.4,-1.4,-1,1,-.9,-.9,-.9,-1],[.3,.3,.45,-.1,0,1.1,0,0,0,0],[.15,.2,.5,-.4,-.3,.7,-.3,-.3,-.3,-.2],[.15,.2,.45,.1,.1,.8,0,0,0,0]]
rows_7 = [[0,0,.15,2,.3,.1,2,.3,.1,2],[-.2,-.2,0,-.1,-.2,-.2,-.1,-.2,-.2,-.1],[.02,.02,.05,.9,.7,.1,1.5,.1,.1,.8],[.05,.12,.05,.3,.2,.2,1.5,.1,.1,.2],[.2,.2,.05,.7,.2,.1,1.4,.3,.7,.4],
 [.02,.02,.02,.7,.2,0,1.3,.1,.1,.7],[0,0,0,.2,.2,0,1,.1,0,.2],[0,0,0,0,.2,0,1,.1,0,0],[0,0,0,.6,.4,.1,1,.2,.1,.5],[0,0,0,.3,.5,0,.3,1.9,.1,.2]]
rows_8 = [[0,0,0,1,.6,0,.2,2,.1,.6],[.05,.02,.05,1.2,.9,.1,.5,1.9,.1,.8],[0,0,0,.2,.3,0,.2,1.7,0,.2],[0,0,0,1.1,.5,0,.2,1.8,0,.8],[0,0,0,.3,.3,0,.1,1.6,0,.2],
 [.2,0,.05,.8,.5,0,.2,1.7,.1,.3],[0,0,0,.2,.4,0,.9,1.6,0,.2],[0,0,0,.3,.4,0,.1,1.6,0,.1]]
rows_9 = [[0,0,0,0,0,0,0,0,1.5,0],[0,0,0,0,.1,0,0,0,1.5,0],[.05,.02,.1,.2,1.5,0,.1,.1,1.7,.2],[0,0,0,0,0,0,0,0,1.4,0],[.02,.02,.05,.1,1.3,0,.1,.1,1.6,.1],
 [0,0,0,0,.1,0,0,0,1.2,0],[0,0,0,0,.1,0,0,0,1.3,0],[0,0,0,.8,.4,0,.2,.2,1.3,.5],[0,0,0,.1,.1,0,0,0,1.3,0]]
rows_10 = [[.05,.05,.05,1.2,.3,.1,.6,.2,1,.5],[.2,.2,.4,1.6,.3,.1,.7,.2,.2,1.9],[.1,.05,.15,1.6,.2,.1,.3,.1,.1,1.8],[.1,.1,.2,1.6,.3,.1,.3,.2,.2,1.6],[.1,.1,.3,1.9,.3,.1,.6,1,.2,1.7],
 [.2,.2,.2,.2,.1,.2,.2,.2,.1,1.3],[0,0,0,.2,.1,0,.6,.1,.1,1.2],[0,0,0,.9,.2,0,.1,.1,.1,1.5],[0,0,0,.5,.1,0,.1,.1,.1,1.6]]
gene_rows = genes_1+genes_2+genes_3+genes_4+genes_5+genes_6+genes_7+genes_8+genes_9+genes_10
row_table = rows_1+rows_2+rows_3+rows_4+rows_5+rows_6+rows_7+rows_8+rows_9+rows_10
row_amp = [.16]*10+[.14]*10+[.35]*10+[.12]*10+[.02]*9+[.28]*10+[.05]*10+[.05]*8+[.04]*9+[.16]*9
band_IIa = [.6,-.2,.7,-.9,.2,.8,-.3,1,.3,-.6,.5,-1,.4,-.7,-.1,.9,.5,-.4,.1,.7,.9,.3]
band_I = [.5,.9,-.6,.2,-.9,.3,.8,-.4,1,.1,-1,.6,.9,-.2,.4,.8,-.9,-1,.2,.7]
band_mix = [.8,-.3,.5,1,-.8,.9,-.4,.6]
band_LUM = [.4,-.8,.7,.2,1,-.5,.9,.3,-.9,.6]
band_End = [-.6,.8,.2,1,-.3]
band_II2 = [.3,-.7,1,.1,-.4,.7]
band_Sat = [.6,-.9,.4]
band_Per = [-.5,.9,.2]
band_Imm = [.2,-.6,.8,.1]
band_FBN = [-.2,1,.5]
bands = [band_IIa,band_I,band_mix,band_LUM,band_End,band_II2,band_Sat,band_Per,band_Imm,band_FBN]
x_edges = [0.0]; seg_group = []; seg_w = []
for g, (n, b) in enumerate(zip(group_sizes, bands)):
    for i, w in enumerate(b):
        x_edges.append(x_edges[-1]+n/len(b)); seg_group.append(g); seg_w.append(w)
M = np.array([[row_table[r][g]+row_amp[r]*w for g, w in zip(seg_group, seg_w)] for r in range(len(gene_rows))])
cm_heat = LSC.from_list('h', ['#FFFFFF', '#C9C9C9', '#D62828'])
axF = axpx(85, 966.7, 765, 1584)
axF.pcolormesh(x_edges, np.arange(len(gene_rows)+1), M, cmap=cm_heat, vmin=-2, vmax=2)
axF.set_ylim(len(gene_rows), 0); axF.set_xlim(0, sum(group_sizes))
axF.set_xticks([]); axF.set_yticks(np.arange(len(gene_rows))+.5); axF.set_yticklabels(gene_rows, fontsize=2.7, fontweight='bold')
axF.tick_params(length=0, pad=1)
for s in axF.spines.values():
    s.set_visible(False)
bounds = np.cumsum(group_sizes)
axF.vlines(bounds[:-1], 0, len(gene_rows), color='#666666', lw=1)
axFg = axpx(85, 945, 765, 957.3)
axFg.barh([0], group_sizes, left=np.r_[0, bounds[:-1]], color=group_colors, height=1, edgecolor='white', lw=.6)
axFg.set_xlim(0, sum(group_sizes)); axFg.set_ylim(-.5, .5); axFg.axis('off')
f_x = [184,428,564,613,657,682,705,721,736,756]
for n, c, x in zip(group_names, group_colors, f_x):
    T(x, 942.7, n, 10.5, ha='left', va='bottom', rotation=45, rotation_mode='anchor', style='italic', color=c)
big_genes = ['ATP2A1','TNNT3','MYH1','MYH2','ATP2A2','MYH7','TNNC2','TNNC1','CKM','GAPDH','COL6A3','DCN','VWF','RGS5','MDM2','PAX7','PDGFRB','NOTCH3','CD74','HLA-DRB1','FBN1','FSTL1']
big_y = [972,983,1009,1018,1042,1092,1103,1115,1127,1138,1192,1218,1243,1263,1314,1366,1424,1464,1484,1497,1536,1548]
for g, y in zip(big_genes, big_y):
    T(60, y, g, 7.6 if g == 'HLA-DRB1' else 9.2, ha='right')
    r = gene_rows.index(g)
    ry = 966.7 + (r+.5)*617.3/len(gene_rows)
    ov.plot([61.5, 68], [y, ry], color='k', lw=1.3)
T(820, 961, 'Expression', 9.5)
cbar(789, 970.7, 806, 1043, cm_heat)
for y, s in zip([974,990.5,1007,1024,1040.5], ['2','1','0','-1','-2']):
    T(809, y, s, 7.5, ha='left')

# Panel G left
sample_n = ['n=5,912','n=7,417','n=4,019','n=4,906','n=16,132','n=4,081','n=3,188','n=5,006','n=8,944','n=2,971','n=3,607','n=2,544','n=3,250','n=4,467','n=9,552','n=11,000','n=4,857']
cum_IIa = [100.0]*17
cum_I = [70.8,66.5,82.6,56,57.8,71.6,84.4,61.2,58.1,81,64.4,76.6,62.2,44.7,63.6,60.3,51.9]
cum_mix = [42.3,21.9,26.7,28.5,25.2,31.9,62.7,22.9,27.4,31.9,40.3,44.4,35.1,32.2,37.6,20.5,31.4]
cum_LUM = [32.2,16.7,22.6,16.4,15,25.8,49.9,19.1,19.1,27.7,30.1,39.1,29.9,27.2,29.8,14.8,24.7]
cum_End = [21.4,11.9,14.9,10.9,13,17,30.9,12.8,12.8,15.6,24.3,22.6,22.7,21.6,21.7,11.4,16.2]
cum_II2 = [18.3,9.3,11.6,9.2,11.3,11.7,27.3,10.5,10.9,11.3,22,15.2,15.5,15.8,17.7,7.8,12.1]
cum_Sat = [11.9,6.6,9.3,7.4,4,8.4,24.7,7.2,7.8,9,7.8,12.8,13.3,12.7,11.9,6.6,10.5]
cum_Per = [10,5.5,7.8,5.8,2,7.2,23.5,5.5,6.3,7.6,5.8,10.7,8.6,8.6,8.6,4.3,9]
cum_Imm = [8.6,4.3,6.6,4.7,1.6,5.5,22.6,4,4.7,6,4.7,7.4,5.8,5.8,5.5,2.3,5.1]
cum_FBN = [4.1,1.4,2.3,1.3,.2,2.3,7,1.6,1.4,2.2,1.7,2.9,.9,.9,2.2,.9,1.6]
cums = [cum_IIa,cum_I,cum_mix,cum_LUM,cum_End,cum_II2,cum_Sat,cum_Per,cum_Imm,cum_FBN]
set3 = ['#8DD3C7','#FFFFB3','#BEBADA','#FB8072','#80B1D3','#FDB462','#B3DE69','#FCCDE5','#D9D9D9','#BC80BD']
axG = axpx(1019.6, 910.7, 1386.7, 1201.7)
xs = np.arange(17)
for c, cu in zip(set3, cums):
    axG.bar(xs, cu, width=.93, color=c, lw=0)
axG.set_xlim(-.625, 16.5); axG.set_ylim(-.35, 101.2)
g_ticks = [1.4,26,50.6,75.2,100]; g_tlab = ['0%','25%','50%','75%','100%']
axG.set_yticks(g_ticks); axG.set_yticklabels(g_tlab, fontsize=9)
axG.set_xticks(xs); axG.set_xticklabels([])
axG.tick_params(length=2.5, pad=1.5, color='#555555')
for s in axG.spines.values():
    s.set_color('#8A8A8A'); s.set_linewidth(1.5)
for x, n in zip(xs, sample_n):
    axG.text(x-.28, 101.8, n, fontsize=8, rotation=45, style='italic', ha='left', va='bottom', rotation_mode='anchor', color='#333333')
T(981, 1162, 'Percentage(%)', 8.6, rotation=90)
ov.plot([1024,1253], [1214,1214], color='#555555', lw=1.1); ov.plot([1266,1386], [1213,1213], color='#555555', lw=1.1)
T(1152, 1223, 'Aged samples', 8.6); T(1331, 1225, 'Young samples', 8.6)
T(904, 917, 'Groups', 8.5)
for i, (n, c) in enumerate(zip(type_names, set3)):
    y = 931.7 + 13*i
    ov.add_patch(Rectangle((884, y-6), 10, 12, fc=c, ec='white', lw=.3))
    T(896, y, n, 7.2, ha='left')

# Panel G right
type_n = ['n=37,555','n=33,345','n=7,771','n=6,854','n=3,352','n=4,180','n=2,083','n=2,028','n=3,111','n=1,683']
sample_names = ['Aged_%d' % i for i in range(1,12)] + ['Young_%d' % i for i in range(1,7)]
sample_colors = ['#FF0000','#FF5A00','#FFAA00','#EEFF00','#90FF00','#30FF00','#00FF20','#00FF7F','#00FFD8','#00C8FF','#0070FF','#0010FF','#3C00FF','#9000FF','#F000FF','#FF00AA','#FF0050']
top_IIa = [4.7,11.2,13.1,18.7,23.3,28.8,33.3,36.6,41.9,43.4,61.4,67.8,69.2,75.7,79.2,88.1]
top_I = [5,14.9,21.6,25.8,30.7,32.9,41,43.6,49.5,53.8,69.5,73,74.8,76.7,79.8,86.7]
top_mix = [7.7,12.8,14.9,22.4,25.6,32.7,40.5,44.9,47.8,49.2,70.7,75.1,76.7,79.7,82.1,91.9]
top_LUM = [9.3,14.7,19.3,24.4,29.7,38.5,46.5,49.5,54.4,59.4,64.1,70.1,75.9,79.8,83.1,94.3]
top_End = [5.6,11.2,14.9,17.6,23.8,29.7,32.1,37.9,41.9,42,50.3,56.5,62,69.5,76.7,88.4]
top_II2 = [8.7,13.1,15.2,17.4,20.7,26.3,30,37,41.9,47.4,75.7,78.6,82.6,84.4,89.3,96.3]
top_Sat = [5.6,9.7,12.8,15.5,18.1,21.9,25.6,30,33.3,34.9,50.3,53.8,55.8,64.3,71.6,88.7]
top_Per = [3.8,8.7,11.2,14.3,17.8,24.8,29.4,31.7,34.7,37.8,43.6,52.7,57,69.5,74.2,88.7]
top_Imm = [8.7,15.5,20.9,24.4,28.8,44,51.5,55,58.8,62.6,69,74.4,77.9,80.6,85.6,95.1]
top_FBN = [14,19.3,24.8,27.9,33.5,46.3,53.5,57.3,61.6,65.5,69,74.5,78.6,80.9,82.1,94.5]
tops = np.array([top_IIa,top_I,top_mix,top_LUM,top_End,top_II2,top_Sat,top_Per,top_Imm,top_FBN])
axG2 = axpx(1419.5, 910.7, 1635, 1201.7)
xs2 = np.arange(10)
for j, c in enumerate(sample_colors):
    upper = 100 - (tops[:, j-1] if j > 0 else 0)
    axG2.bar(xs2, upper, width=.92, color=c, lw=0)
axG2.set_xlim(-.59, 9.55); axG2.set_ylim(-.35, 101.2)
axG2.set_yticks(g_ticks); axG2.set_yticklabels(g_tlab, fontsize=8.6, color='#222222')
axG2.set_xticks(xs2); axG2.set_xticklabels(type_names, rotation=45, ha='right', rotation_mode='anchor', fontsize=10, style='italic')
axG2.tick_params(length=2, pad=1, color='#555555')
for s in axG2.spines.values():
    s.set_color('#8A8A8A'); s.set_linewidth(1.5)
for x, n in zip(xs2, type_n):
    axG2.text(x-.28, 101.8, n, fontsize=8, rotation=45, style='italic', ha='left', va='bottom', rotation_mode='anchor', color='#333333')
T(1642, 924, 'Cell Type-Old group', 8.4, ha='left'); T(1643, 1113, 'Cell Type-Young group', 8.4, ha='left')
for i in range(11):
    y = 940 + 13*i
    ov.add_patch(Rectangle((1647, y-6), 9.5, 12, fc=sample_colors[i], ec='#EEEEEE', lw=.3))
    T(1660, y, sample_names[i], 7.2, ha='left', color='#333333')
for i in range(6):
    y = 1129 + 13*i
    ov.add_patch(Rectangle((1647, y-6), 9.5, 12, fc=sample_colors[11+i], ec='#EEEEEE', lw=.3))
    T(1660, y, sample_names[11+i], 7.2, ha='left', color='#333333')

# Panel H
ov.add_patch(Rectangle((890, 1298), 846, 289, fill=False, ec='#8A7FB8', lw=1.5, ls=(0,(5,3))))
h_titles = ['Satellite Cells','Pericytes','Endothelial Cells','Type IIa','Immune cells']
young_vals = [[4.55,4,3.75,2.1,1.95,1.8,1.55],[5.8,3.9,3.3,3.05,2.8,2.05,.65],[7.45,7.3,5.75,4.1,4.1,3.5,1.75],[55.5,48,41.5,40,39,36,23.5],[4.9,4.8,3.3,2.8,2.2,1.3,1.2]]
young_off = [[0,.22,0,.22,0,.22,-.22],[0,0,0,.22,-.22,0,0],[.22,0,0,-.22,.22,0,0],[0,0,0,.22,-.22,0,0],[-.22,.22,0,0,0,-.22,.22]]
aged_vals = [[2.05,1.95,1.8,1.7,1.4,1.25,1.1,1.1,1.05,1.05],[2.1,1.9,1.7,1.55,1.45,1.4,1.35,1.25,1.2,1.2],[5.1,4.55,3.5,3.2,3.1,2.45,2.25,2.2,1.9,1.85],[44,42,39,35.5,33.5,30.5,29,19.5,17.5,15.5],[15.3,4.6,4.1,3.2,2.9,2.8,2.6,2.3,2.4,2]]
aged_off = [[0,-.1,.12,.05,-.1,.18,-.18,0,.22,-.22],[.02,-.05,.08,-.14,.14,.02,-.2,.2,-.08,.08],[.05,-.08,.2,-.1,.05,-.22,.2,-.05,.03,-.22],[-.22,.22,-.22,0,-.22,-.22,.02,0,.22,-.22],[-.05,.22,-.22,.2,-.12,.12,-.22,.22,.02,.1]]
young_mean = [2.8,3.07,4.85,40.5,2.9]; young_sd = [1.23,1.57,2.1,10,1.55]
aged_mean = [1.43,1.47,3,30.5,4.35]; aged_sd = [.39,.31,1.13,10.25,3.87]
y_max = [5,8,8,60,20]; y_step = [1,2,2,20,5]
geom = [(934,1333.7,1039,1500.7,968,1016.5),(1091.6,1333,1205,1499,1124.6,1174),(1265,1335,1374,1499,1295,1343.6),(1453,1322,1561.5,1499,1487.5,1541),(1623.5,1328.7,1733,1498.7,1653.6,1708.8)]
h_label_x = [(958,1019),(1114,1187),(1287,1357),(1479,1545.5),(1643,1716)]
h_title_x = [987,1149,1321,1510,1675]
h_ylab_x = [904,1066,1236,1419,1597]
h_ylab_y = [1410,1405,1401,1398,1409]
for i in range(5):
    l, t, r, b, xy, xa = geom[i]
    ax = axpx(l, t, r, b)
    sx = xa-xy
    ax.set_xlim((l-xy)/sx, (r-xy)/sx); ax.set_ylim(0, y_max[i])
    ax.scatter(np.array(young_off[i]), young_vals[i], s=58, color='#9A9A9A', lw=0, zorder=2, clip_on=False)
    ax.scatter(1+np.array(aged_off[i]), aged_vals[i], s=58, color='#C9A6F2', alpha=.65, lw=0, zorder=2, clip_on=False)
    for x, m, sd in zip([0,1], [young_mean[i],aged_mean[i]], [young_sd[i],aged_sd[i]]):
        ax.errorbar([x], [m], yerr=[sd], color='#1A1A1A', capsize=6, lw=1.2, capthick=1.4, zorder=3)
        ax.plot([x-15.5/sx, x+15.5/sx], [m, m], color='#1A1A1A', lw=1.6, zorder=3)
    ax.set_xticks([0,1]); ax.set_xticklabels([])
    ax.set_yticks(np.arange(0, y_max[i]+1, y_step[i]))
    ax.tick_params(labelsize=9.5, width=1.4, length=4, pad=1.5)
    for s in ('top','right'):
        ax.spines[s].set_visible(False)
    for s in ('left','bottom'):
        ax.spines[s].set_linewidth(1.8)
    T(h_label_x[i][0], 1512, 'Young', 9); T(h_label_x[i][1], 1512, 'Aged', 9)
    T(h_title_x[i], 1545, h_titles[i], 14.7)
    T(h_ylab_x[i], h_ylab_y[i], 'proportion', 8.4, rotation=90)
for (x0, x1, yb, yl, s, sy) in [(965,1013,1326,1334,'**',1319),(1123.5,1171,1325,1334,'**',1318),(1295,1342,1322.7,1331,'*',1316)]:
    ov.plot([x0,x0,x1,x1], [yl,yb,yb,yl], color='#111111', lw=1.4)
    T((x0+x1)/2, sy, s, 18, fontweight='bold')

fig.savefig('out.png', dpi=100)
